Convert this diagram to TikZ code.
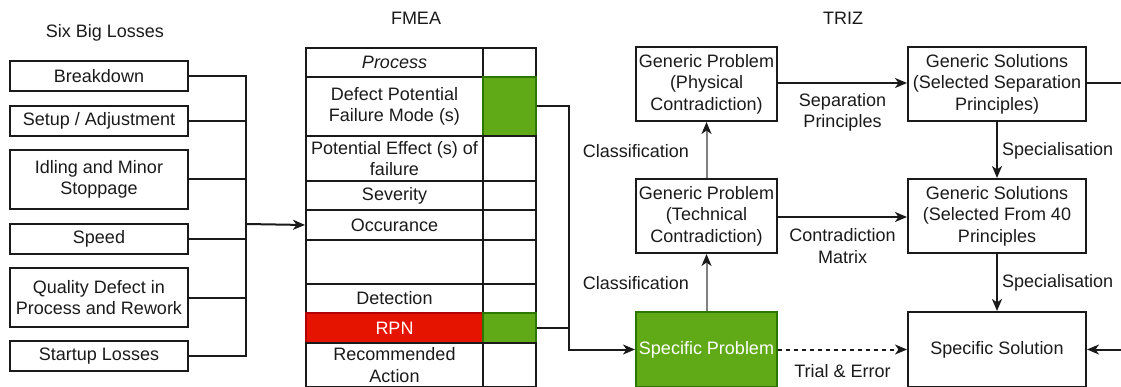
\documentclass[tikz,border=0pt]{standalone}
\usepackage{fontspec}
\setmainfont{Liberation Sans}
\usetikzlibrary{arrows.meta}
\definecolor{okgreen}{HTML}{60A917}
\definecolor{okgreenline}{HTML}{2D7600}
\definecolor{alarmred}{HTML}{E51400}
\definecolor{alarmredline}{HTML}{B20000}
\definecolor{greyarrow}{HTML}{808080}
\definecolor{ink}{HTML}{1A1A1A}
\tikzset{
  txt/.style={font=\fontsize{18}{21.5}\selectfont, align=center, inner sep=0pt, text=ink},
  box/.style={txt, draw=ink, line width=2pt},
  cell/.style={box, anchor=north west},
  greencell/.style={cell, fill=okgreen, draw=okgreenline},
  redcell/.style={cell, fill=alarmred, draw=alarmredline, text=white},
  line/.style={draw=ink, line width=2pt},
  arr/.style={line, -{Stealth[length=12pt,width=10pt,inset=3.5pt]}},
  greyarr/.style={line, draw=greyarrow, -{Stealth[length=12pt,width=10pt,inset=3.5pt,color=ink]}},
  lbl/.style={txt}
}
\begin{document}
\begin{tikzpicture}[x=1pt,y=-1pt]
\useasboundingbox (0,0) rectangle (1121,387);

% ---------- Six Big Losses ----------
\node[lbl] (tsix) at (105,33) {Six Big Losses};
\node[box, minimum width=178pt, minimum height=30pt] (l1) at (99,76) {Breakdown};
\node[box, minimum width=178pt, minimum height=30pt] (l2) at (99,121) {Setup / Adjustment};
\node[box, minimum width=178pt, minimum height=59pt] (l3) at (99,179.5) {Idling and Minor\\Stoppage};
\node[box, minimum width=178pt, minimum height=30pt] (l4) at (99,239) {Speed};
\node[box, minimum width=178pt, minimum height=59pt] (l5) at (99,297.5) {Quality Defect in\\Process and Rework};
\node[box, minimum width=178pt, minimum height=30pt] (l6) at (99,356) {Startup Losses};

% ---------- FMEA table ----------
\node[lbl] (tfmea) at (416,18) {FMEA};
% left column
\node[cell, minimum width=177pt, minimum height=29pt] (c1) at (305,47) {\itshape Process};
\node[cell, minimum width=177pt, minimum height=59pt] (c2) at (305,76) {Defect Potential\\Failure Mode (s)};
\node[cell, minimum width=177pt, minimum height=45pt] (c3) at (305,135) {Potential Effect (s) of\\failure};
\node[cell, minimum width=177pt, minimum height=29pt] (c4) at (305,180) {Severity};
\node[cell, minimum width=177pt, minimum height=30pt] (c5) at (305,209) {Occurance};
\node[cell, minimum width=177pt, minimum height=44pt] (c6) at (305,239) {};
\node[cell, minimum width=177pt, minimum height=29pt] (c7) at (305,283) {Detection};
\node[redcell, minimum width=177pt, minimum height=30pt] (c8) at (305,312) {RPN};
\node[cell, minimum width=177pt, minimum height=44pt] (c9) at (305,342) {Recommended\\Action};
% right column
\node[cell, minimum width=53pt, minimum height=29pt] (d1) at (482,47) {};
\node[greencell, minimum width=53pt, minimum height=59pt] (d2) at (482,76) {};
\node[cell, minimum width=53pt, minimum height=45pt] (d3) at (482,135) {};
\node[cell, minimum width=53pt, minimum height=29pt] (d4) at (482,180) {};
\node[cell, minimum width=53pt, minimum height=30pt] (d5) at (482,209) {};
\node[cell, minimum width=53pt, minimum height=44pt] (d6) at (482,239) {};
\node[cell, minimum width=53pt, minimum height=29pt] (d7) at (482,283) {};
\node[greencell, minimum width=53pt, minimum height=30pt] (d8) at (482,312) {};
\node[cell, minimum width=53pt, minimum height=44pt] (d9) at (482,342) {};

% ---------- TRIZ ----------
\node[lbl] (ttriz) at (843,18) {TRIZ};
\node[box, minimum width=141pt, minimum height=74pt] (gpp) at (706.5,84) {Generic Problem\\(Physical\\Contradiction)};
\node[box, minimum width=141pt, minimum height=74pt] (gpt) at (706.5,216) {Generic Problem\\(Technical\\Contradiction)};
\node[box, minimum width=141pt, minimum height=75pt, fill=okgreen, draw=okgreenline, text=white] (sp) at (706.5,349.5) {Specific Problem};
\node[box, minimum width=178pt, minimum height=74pt] (gss) at (997,84) {Generic Solutions\\(Selected Separation\\Principles)};
\node[box, minimum width=178pt, minimum height=74pt] (gsf) at (997,216) {Generic Solutions\\(Selected From 40\\Principles};
\node[box, minimum width=178pt, minimum height=75pt] (ss) at (997,349.5) {Specific Solution};

% ---------- connectors ----------
\coordinate (bus) at (246,224);
\foreach \n in {l1,l2,l3,l4,l5,l6} \draw[line] (\n.east) -| (bus);
\draw[arr] (bus) -- (c5.west);

\coordinate (join) at (569,300);
\draw[arr] (d2.east) -| (join) |- (sp.west);
\draw[line] (d8.east) -- (d8.east -| join);

\draw[greyarr] (sp.north) -- (gpt.south);
\draw[greyarr] (gpt.north) -- (gpp.south);
\draw[arr] (gpp.east |- 0,83) -- (gss.west |- 0,83);
\draw[arr] (gpt.east |- 0,217) -- (gsf.west |- 0,217);
\draw[arr] (gss.south) -- (gsf.north);
\draw[arr] (gsf.south) -- (ss.north);
\draw[arr, dashed, dash pattern=on 4pt off 4pt] (sp.east) -- (ss.west);
\coordinate (loop) at (1135,83);
\draw[arr] (gss.east |- 0,83) -- (loop) |- (ss.east);

% ---------- edge labels ----------
\node[lbl] (lsep) at (842.5,112.5) {Separation\\Principles};
\node[lbl] (lcon) at (842.5,246) {Contradiction\\Matrix};
\node[lbl] (ltri) at (842.5,371) {Trial \& Error};
\node[lbl, anchor=east] (lcl1) at (689,151) {Classification};
\node[lbl, anchor=east] (lcl2) at (689,283) {Classification};
\node[lbl, anchor=west] (lsp1) at (1002,151) {Specialisation};
\node[lbl, anchor=west] (lsp2) at (1002,283) {Specialisation};
\end{tikzpicture}
\end{document}
